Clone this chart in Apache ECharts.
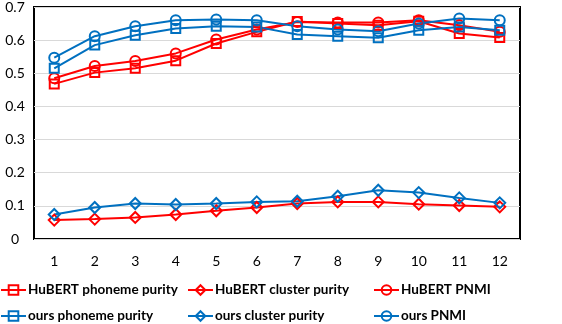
<!DOCTYPE html>
<html>
<head>
<meta charset="utf-8">
<script src="https://cdn.jsdelivr.net/npm/echarts@6/dist/echarts.min.js"></script>
<style>
    html, body { margin: 0; padding: 0; background: #fff; }
    #chart { width: 562px; height: 324px; }
</style>
</head>
<body>
<div id="chart"></div>
<script>
    // layers
    const layers = ['1', '2', '3', '4', '5', '6', '7', '8', '9', '10', '11', '12']
    const yTicks = [0, 0.1, 0.2, 0.3, 0.4, 0.5, 0.6, 0.7]

    const hubertPhonemePurity = [0.468, 0.502, 0.515, 0.538, 0.590, 0.625, 0.656, 0.650, 0.645, 0.657, 0.620, 0.608]
    const hubertClusterPurity = [0.057, 0.060, 0.065, 0.074, 0.085, 0.095, 0.107, 0.112, 0.112, 0.105, 0.101, 0.097]
    const hubertPNMI = [0.485, 0.522, 0.537, 0.560, 0.602, 0.632, 0.655, 0.653, 0.653, 0.660, 0.645, 0.625]
    const oursPhonemePurity = [0.515, 0.585, 0.615, 0.635, 0.642, 0.640, 0.617, 0.612, 0.607, 0.630, 0.640, 0.630]
    const oursClusterPurity = [0.074, 0.095, 0.107, 0.104, 0.107, 0.112, 0.114, 0.129, 0.147, 0.140, 0.124, 0.109]
    const oursPNMI = [0.547, 0.612, 0.642, 0.660, 0.662, 0.660, 0.642, 0.632, 0.627, 0.650, 0.665, 0.660]

    const RED = '#ff0000'
    const BLUE = '#0070c0'
    const FONT = 'Lato'

    function mkSeries(name, data, color, symbol, size) {
        return {
            name: name,
            type: 'line',
            data: data,
            symbol: symbol,
            symbolSize: size,
            showSymbol: true,
            color: color,
            lineStyle: { color: color, width: 2 },
            itemStyle: { color: 'rgba(255,255,255,0)', borderColor: color, borderWidth: 2 },
            emphasis: { disabled: true },
            z: 3
        }
    }

    function mkLegend(left, names) {
        return {
            orient: 'vertical',
            left: left,
            top: 283,
            height: 60,
            itemGap: 12,
            itemWidth: 25,
            itemHeight: 12,
            padding: 0,
            data: names,
            textStyle: { fontFamily: FONT, fontSize: 13.5, fontWeight: 'bold', color: '#000', padding: [0, 0, 0, -3] }
        }
    }

    let myChart = echarts.init(document.getElementById('chart'), null, { renderer: 'canvas' })
    let options = {
        animation: false,
        backgroundColor: '#fff',
        grid: {
            left: 34, right: 42, top: 5, bottom: 85,
            show: true,
            borderColor: '#000',
            borderWidth: 2,
            backgroundColor: 'rgba(0,0,0,0)'
        },
        legend: [
            mkLegend(0, ['HuBERT phoneme purity', 'ours phoneme purity']),
            mkLegend(187, ['HuBERT cluster purity', 'ours cluster purity']),
            mkLegend(373, ['HuBERT PNMI', 'ours PNMI'])
        ],
        xAxis: {
            type: 'category',
            data: layers,
            boundaryGap: true,
            axisLine: { show: false },
            axisTick: { show: false },
            axisLabel: { margin: 15, fontFamily: FONT, fontSize: 14, color: '#000' }
        },
        yAxis: {
            type: 'value',
            min: 0,
            max: 0.7,
            interval: 0.1,
            axisLine: { show: false },
            axisTick: { show: false },
            axisLabel: {
                margin: 19,
                align: 'center',
                fontFamily: FONT,
                fontSize: 14,
                color: '#000',
                formatter: function (v) { return yTicks.indexOf(Math.round(v * 10) / 10) >= 0 ? String(Math.round(v * 10) / 10) : '' }
            },
            splitLine: { lineStyle: { color: '#d9d9d9', width: 1 } }
        },
        series: [
            mkSeries('HuBERT phoneme purity', hubertPhonemePurity, RED, 'rect', 9),
            mkSeries('HuBERT cluster purity', hubertClusterPurity, RED, 'diamond', 11),
            mkSeries('HuBERT PNMI', hubertPNMI, RED, 'circle', 10),
            mkSeries('ours phoneme purity', oursPhonemePurity, BLUE, 'rect', 9),
            mkSeries('ours cluster purity', oursClusterPurity, BLUE, 'diamond', 11),
            mkSeries('ours PNMI', oursPNMI, BLUE, 'circle', 10)
        ]
    }
    myChart.setOption(options)
</script>
</body>
</html>
